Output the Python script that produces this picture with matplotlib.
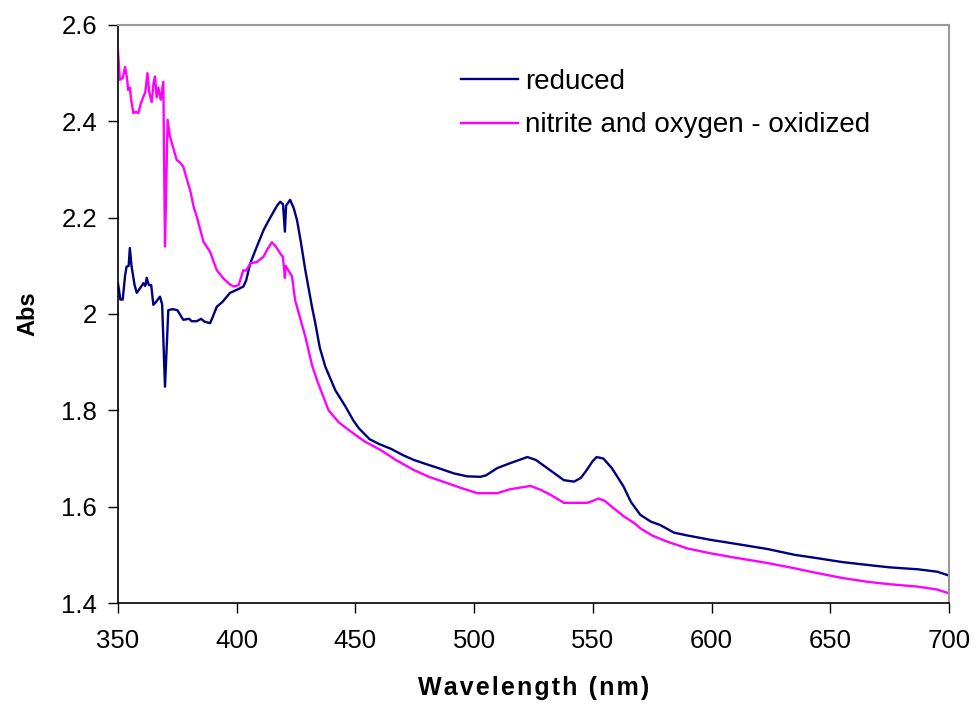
import matplotlib
matplotlib.use("Agg")
import matplotlib.pyplot as plt

plt.rcParams['font.family'] = ['Liberation Sans', 'DejaVu Sans']

# reduced spectrum
wl_red = [350, 351, 352, 353, 353.6, 354.5, 355, 355.7, 357, 357.9, 359.5, 360.7,
          361.5, 362.1, 363, 364, 364.9, 366, 367.7, 368.6, 369.8, 371.2, 373, 375,
          377.5, 380, 381, 383.2, 385, 386.5, 388.8, 390, 391.6, 394, 397.2, 400,
          402.8, 404, 405.7, 408.5, 411.3, 413, 415.5, 417, 418.3, 419.5, 420.3,
          420.8, 422.5, 424, 425.4, 427, 428.9, 431.7, 433.1, 435, 437.3, 441.5,
          445.8, 449, 451.4, 456, 460, 465, 470, 474.6, 480, 485, 491.5, 497, 502.7,
          505, 509.7, 515, 519, 522.4, 526, 530.8, 535, 537.8, 542.1, 545, 547.4,
          550, 551.6, 554.4, 558, 562.9, 566, 570, 574.4, 578.3, 584.2, 590, 599.7,
          610, 623.6, 635, 644.6, 655, 665.7, 675, 686.8, 695, 700]
abs_red = [2.064, 2.030, 2.030, 2.080, 2.098, 2.100, 2.137, 2.100, 2.060, 2.044, 2.055, 2.064,
           2.058, 2.075, 2.060, 2.060, 2.019, 2.025, 2.036, 2.020, 1.849, 2.008, 2.010, 2.008,
           1.988, 1.990, 1.985, 1.985, 1.990, 1.984, 1.981, 1.995, 2.015, 2.025, 2.044, 2.050,
           2.057, 2.070, 2.105, 2.140, 2.174, 2.190, 2.212, 2.225, 2.233, 2.228, 2.171,
           2.225, 2.237, 2.220, 2.195, 2.150, 2.091, 2.015, 1.981, 1.930, 1.891, 1.842,
           1.808, 1.780, 1.763, 1.740, 1.730, 1.720, 1.707, 1.697, 1.688, 1.680, 1.669, 1.663, 1.662,
           1.665, 1.680, 1.690, 1.697, 1.703, 1.697, 1.680, 1.665, 1.655, 1.652, 1.660, 1.676,
           1.695, 1.703, 1.700, 1.680, 1.642, 1.610, 1.583, 1.569, 1.562, 1.546, 1.540, 1.531,
           1.523, 1.512, 1.500, 1.493, 1.485, 1.479, 1.474, 1.470, 1.465, 1.457]

# nitrite and oxygen - oxidized
wl_ox = [350, 350.8, 352, 353, 353.8, 354.3, 355, 355.7, 356.5, 357.5, 358.6, 359.5,
         360.7, 361.5, 362.4, 363.2, 364.2, 365, 365.6, 366.3, 367, 368, 369.1, 369.8,
         370.9, 371.9, 373, 374.7, 376, 377.5, 379, 380.4, 382, 383.2, 386, 388.8,
         391.6, 394.4, 397, 398.7, 400.8, 402.8, 404, 405.7, 408.5, 411.3, 413, 414.8,
         416.5, 418.3, 419.5, 420.3, 420.6, 423.3, 424.6, 428.9, 431.7, 433.8, 435.9,
         438.7, 443, 447.5, 454, 460.5, 467, 474.6, 481, 488.6, 495, 501.3, 509.7, 515,
         520, 523.8, 528, 532, 537.8, 547.7, 550, 552.4, 555, 558.7, 563, 567.4, 570,
         575, 581.5, 590, 599.7, 610, 623.6, 635, 644.6, 655, 665.7, 675, 686.8, 695, 700]
abs_ox = [2.545, 2.486, 2.490, 2.513, 2.490, 2.465, 2.470, 2.440, 2.417, 2.420, 2.417, 2.435,
          2.451, 2.460, 2.500, 2.460, 2.440, 2.480, 2.493, 2.450, 2.470, 2.445, 2.482, 2.140,
          2.403, 2.368, 2.350, 2.320, 2.315, 2.306, 2.280, 2.257, 2.220, 2.202, 2.150, 2.129,
          2.091, 2.074, 2.062, 2.057, 2.060, 2.091, 2.090, 2.105, 2.108, 2.119, 2.135, 2.149,
          2.140, 2.126, 2.118, 2.075, 2.100, 2.078, 2.029, 1.953, 1.894, 1.863, 1.836,
          1.800, 1.775, 1.758, 1.735, 1.718, 1.697, 1.676, 1.662, 1.649, 1.638, 1.628, 1.628, 1.636,
          1.640, 1.643, 1.635, 1.625, 1.608, 1.608, 1.612, 1.617, 1.612, 1.597, 1.580, 1.566, 1.555,
          1.540, 1.527, 1.513, 1.503, 1.494, 1.483, 1.472, 1.462, 1.452, 1.444, 1.439, 1.434, 1.428, 1.420]

x_ticks = [350, 400, 450, 500, 550, 600, 650, 700]
y_ticks = [1.4, 1.6, 1.8, 2.0, 2.2, 2.4, 2.6]
y_labels = ['1.4', '1.6', '1.8', '2', '2.2', '2.4', '2.6']

fig = plt.figure(figsize=(9.79, 7.08), dpi=100)
ax = fig.add_axes([0.1205, 0.1483, 0.8489, 0.8164])

ax.plot(wl_red, abs_red, color='#000080', lw=1.7, label='reduced')
ax.plot(wl_ox, abs_ox, color='#FF00FF', lw=1.7, label='nitrite and oxygen - oxidized')

ax.set_xlim(350, 700)
ax.set_ylim(1.4, 2.6)
ax.set_xticks(x_ticks)
ax.set_yticks(y_ticks)
ax.set_yticklabels(y_labels)
ax.tick_params(direction='out', length=7, width=1, labelsize=18.5, colors='black')
ax.tick_params(axis='x', pad=12)
ax.tick_params(axis='y', pad=8)

for side in ['top', 'right']:
    ax.spines[side].set_color('#999999')
    ax.spines[side].set_linewidth(1.5)
for side in ['left', 'bottom']:
    ax.spines[side].set_color('black')
    ax.spines[side].set_linewidth(1.2)

# the original label is letter-spaced, so hair spaces go between the letters
xlab = '\u200a'.join('Wavelength (nm)')
ax.set_xlabel(xlab, fontsize=18, fontweight='bold', labelpad=16)
ax.set_ylabel('Abs', fontsize=17, fontweight='bold', labelpad=16)

leg = ax.legend(loc='upper left', bbox_to_anchor=(0.4565, 0.922),
                bbox_transform=fig.transFigure, frameon=False, fontsize=20,
                handlelength=2.05, handletextpad=0.25, labelspacing=0.62, borderpad=0)

fig.savefig('out.png', dpi=100)
